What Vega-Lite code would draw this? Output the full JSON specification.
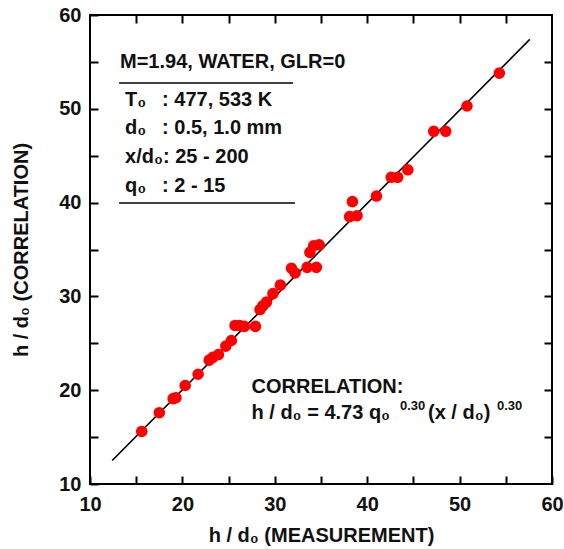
{
  "$schema": "https://vega.github.io/schema/vega-lite/v6.json",
  "width": 462,
  "height": 469,
  "autosize": {"type": "none"},
  "padding": {"left": 90, "top": 15, "right": 12, "bottom": 65},
  "background": "white",
  "config": {
    "view": {"stroke": "#000", "strokeWidth": 2},
    "font": "Liberation Sans",
    "axis": {
      "labelFont": "Liberation Sans", "labelFontWeight": "bold", "labelFontSize": 20, "labelColor": "#111",
      "titleFont": "Liberation Sans", "titleFontWeight": "bold", "titleFontSize": 20, "titleColor": "#111",
      "domain": false, "grid": false,
      "tickColor": "#000", "tickWidth": 2, "tickSize": -8
    }
  },
  "datasets": {
    "pts": [
      {"meas": 15.6, "corr": 15.6}, {"meas": 17.5, "corr": 17.6}, {"meas": 19.0, "corr": 19.1},
      {"meas": 19.3, "corr": 19.2}, {"meas": 20.3, "corr": 20.5}, {"meas": 21.7, "corr": 21.7},
      {"meas": 22.9, "corr": 23.2}, {"meas": 23.3, "corr": 23.5}, {"meas": 23.9, "corr": 23.8},
      {"meas": 24.7, "corr": 24.7}, {"meas": 25.3, "corr": 25.3}, {"meas": 25.7, "corr": 26.9},
      {"meas": 26.2, "corr": 26.9}, {"meas": 26.7, "corr": 26.8}, {"meas": 27.9, "corr": 26.8},
      {"meas": 28.4, "corr": 28.6}, {"meas": 28.7, "corr": 29.0}, {"meas": 29.1, "corr": 29.4},
      {"meas": 29.8, "corr": 30.3}, {"meas": 30.6, "corr": 31.2}, {"meas": 31.8, "corr": 33.0},
      {"meas": 32.2, "corr": 32.5}, {"meas": 33.5, "corr": 33.1}, {"meas": 34.5, "corr": 33.1},
      {"meas": 33.8, "corr": 34.7}, {"meas": 34.2, "corr": 35.4}, {"meas": 34.8, "corr": 35.5},
      {"meas": 38.1, "corr": 38.5}, {"meas": 38.9, "corr": 38.6}, {"meas": 38.4, "corr": 40.1},
      {"meas": 41.0, "corr": 40.7}, {"meas": 42.6, "corr": 42.7}, {"meas": 43.3, "corr": 42.7},
      {"meas": 44.4, "corr": 43.5}, {"meas": 47.2, "corr": 47.6}, {"meas": 48.5, "corr": 47.6},
      {"meas": 50.8, "corr": 50.3}, {"meas": 54.3, "corr": 53.8}
    ],
    "fit": [{"meas": 12.4, "corr": 12.5}, {"meas": 57.6, "corr": 57.4}],
    "notes": [
      {"x": 13.25, "y": 55.0, "text": "M=1.94, WATER, GLR=0"},
      {"x": 13.8, "y": 50.94, "text": "T₀"},
      {"x": 17.8, "y": 50.94, "text": ": 477, 533 K"},
      {"x": 13.8, "y": 47.95, "text": "d₀"},
      {"x": 17.8, "y": 47.95, "text": ": 0.5, 1.0 mm"},
      {"x": 13.8, "y": 44.86, "text": "x/d₀: 25 - 200"},
      {"x": 13.8, "y": 41.77, "text": "q₀"},
      {"x": 17.8, "y": 41.77, "text": ": 2 - 15"},
      {"x": 27.48, "y": 20.37, "text": "CORRELATION:"},
      {"x": 27.48, "y": 17.57, "text": "h / d₀ = 4.73 q₀"},
      {"x": 46.58, "y": 17.57, "text": "(x / d₀)"}
    ],
    "sups": [
      {"x": 43.55, "y": 18.3, "text": "0.30"},
      {"x": 54.05, "y": 18.3, "text": "0.30"}
    ],
    "rules": [
      {"x": 13.14, "x2": 31.97, "y": 52.75},
      {"x": 13.14, "x2": 32.19, "y": 39.96}
    ]
  },
  "layer": [
    {
      "data": {"name": "fit"},
      "mark": {"type": "line", "color": "#000", "strokeWidth": 1.6},
      "encoding": {
        "x": {"field": "meas", "type": "quantitative", "scale": {"domain": [10, 60], "nice": false},
          "axis": {"orient": "bottom", "title": "h / d₀ (MEASUREMENT)", "values": [10,15,20,25,30,35,40,45,50,55,60],
            "labelExpr": "datum.value % 10 === 0 ? datum.label : ''", "labelPadding": 18, "titlePadding": 11, "labelFlush": false}},
        "y": {"field": "corr", "type": "quantitative", "scale": {"domain": [10, 60], "nice": false},
          "axis": {"orient": "left", "title": "h / d₀ (CORRELATION)", "values": [10,15,20,25,30,35,40,45,50,55,60],
            "labelExpr": "datum.value % 10 === 0 ? datum.label : ''", "labelPadding": 17, "titlePadding": 27, "labelFlush": false}}
      }
    },
    {
      "data": {"name": "pts"},
      "mark": {"type": "circle", "color": "#ff0000", "opacity": 1, "size": 135},
      "encoding": {
        "x": {"field": "meas", "type": "quantitative",
          "axis": {"orient": "top", "title": null, "labels": false, "values": [15,20,25,30,35,40,45,50,55]}},
        "y": {"field": "corr", "type": "quantitative",
          "axis": {"orient": "right", "title": null, "labels": false, "values": [15,20,25,30,35,40,45,50,55]}}
      }
    },
    {
      "data": {"name": "rules"},
      "mark": {"type": "rule", "color": "#000", "strokeWidth": 1.6},
      "encoding": {
        "x": {"field": "x", "type": "quantitative", "axis": null},
        "x2": {"field": "x2"},
        "y": {"field": "y", "type": "quantitative", "axis": null}
      }
    },
    {
      "data": {"name": "notes"},
      "mark": {"type": "text", "align": "left", "baseline": "middle", "fontSize": 20, "fontWeight": "bold", "font": "Liberation Sans", "color": "#111"},
      "encoding": {
        "x": {"field": "x", "type": "quantitative", "axis": null},
        "y": {"field": "y", "type": "quantitative", "axis": null},
        "text": {"field": "text"}
      }
    },
    {
      "data": {"name": "sups"},
      "mark": {"type": "text", "align": "left", "baseline": "middle", "fontSize": 13, "fontWeight": "bold", "font": "Liberation Sans", "color": "#111"},
      "encoding": {
        "x": {"field": "x", "type": "quantitative", "axis": null},
        "y": {"field": "y", "type": "quantitative", "axis": null},
        "text": {"field": "text"}
      }
    }
  ],
  "resolve": {"axis": {"x": "independent", "y": "independent"}}
}
